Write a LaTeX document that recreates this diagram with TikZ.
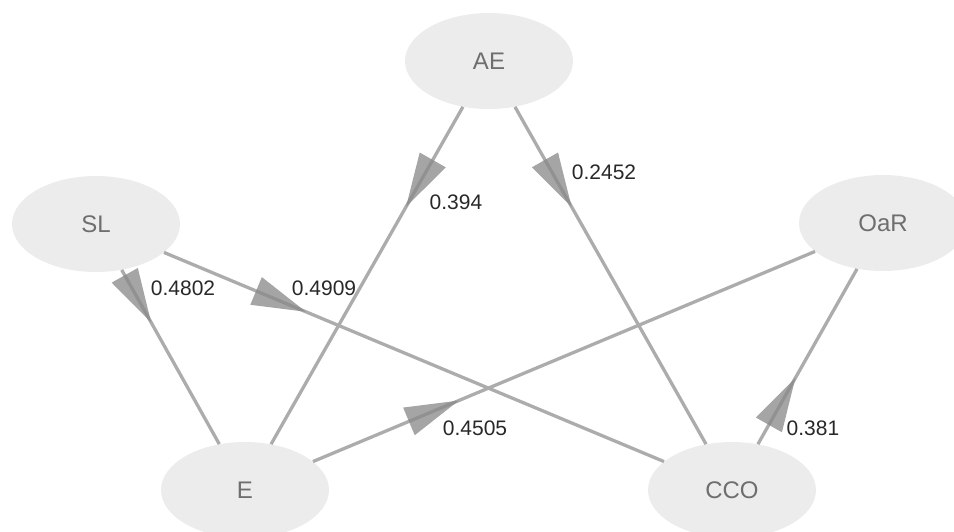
\documentclass[tikz,border=0pt]{standalone}
\usepackage{fontspec}
\setmainfont{Liberation Sans}
\usetikzlibrary{shapes.geometric,calc}
\definecolor{nodefill}{RGB}{236,236,236}
\definecolor{nodetext}{RGB}{110,110,110}
\definecolor{edgecol}{RGB}{172,172,172}
\definecolor{headcol}{RGB}{137,137,137}
\definecolor{labtext}{RGB}{40,40,40}

% filled arrowhead part-way along an edge: source, target, fraction
\newcommand\midhead[3]{%
  \path ($(#1)!#3!(#2)$) coordinate (tip)
        ($(tip)!54pt!(#1)$) coordinate (back);
  \fill[head] (tip) -- ($(back)!15pt!90:(tip)$) -- ($(back)!15pt!-90:(tip)$) -- cycle;}

\begin{document}
\begin{tikzpicture}[x=1pt,y=-1pt,
  var/.style={ellipse, fill=nodefill, minimum width=168pt, minimum height=96pt,
              inner sep=0pt, text=nodetext, font=\fontsize{24}{24}\selectfont},
  link/.style={draw=edgecol, line width=3.3pt},
  head/.style={fill=headcol, fill opacity=0.76},
  coef/.style={text=labtext, inner sep=0pt, font=\fontsize{21}{21}\selectfont}]
\useasboundingbox (0,0) rectangle (954,531);

% latent variables
\node[var] (AE)  at (489,61)  {AE};
\node[var] (SL)  at (96,224)  {SL};
\node[var] (OaR) at (883,223) {OaR};
\node[var] (E)   at (245,490) {E};
\node[var] (CCO) at (732,490) {CCO};

% paths
\draw[link] (AE) -- (E);
\draw[link] (AE) -- (CCO);
\draw[link] (SL) -- (E);
\draw[link] (SL) -- (CCO);
\draw[link] (E) -- (OaR);
\draw[link] (OaR) -- (CCO);

% arrowheads
\midhead{AE}{E}{0.34}
\midhead{AE}{CCO}{0.34}
\midhead{SL}{E}{0.37}
\midhead{SL}{CCO}{0.33}
\midhead{E}{OaR}{0.335}
\midhead{CCO}{OaR}{0.42}

% path coefficients
\node[coef] (cAEE)   at (456,202) {0.394};
\node[coef] (cAECCO) at (604,172) {0.2452};
\node[coef] (cSLE)   at (183,288) {0.4802};
\node[coef] (cSLCCO) at (324,288) {0.4909};
\node[coef] (cEOaR)  at (475,428) {0.4505};
\node[coef] (cOaR)   at (813,428) {0.381};
\end{tikzpicture}
\end{document}
